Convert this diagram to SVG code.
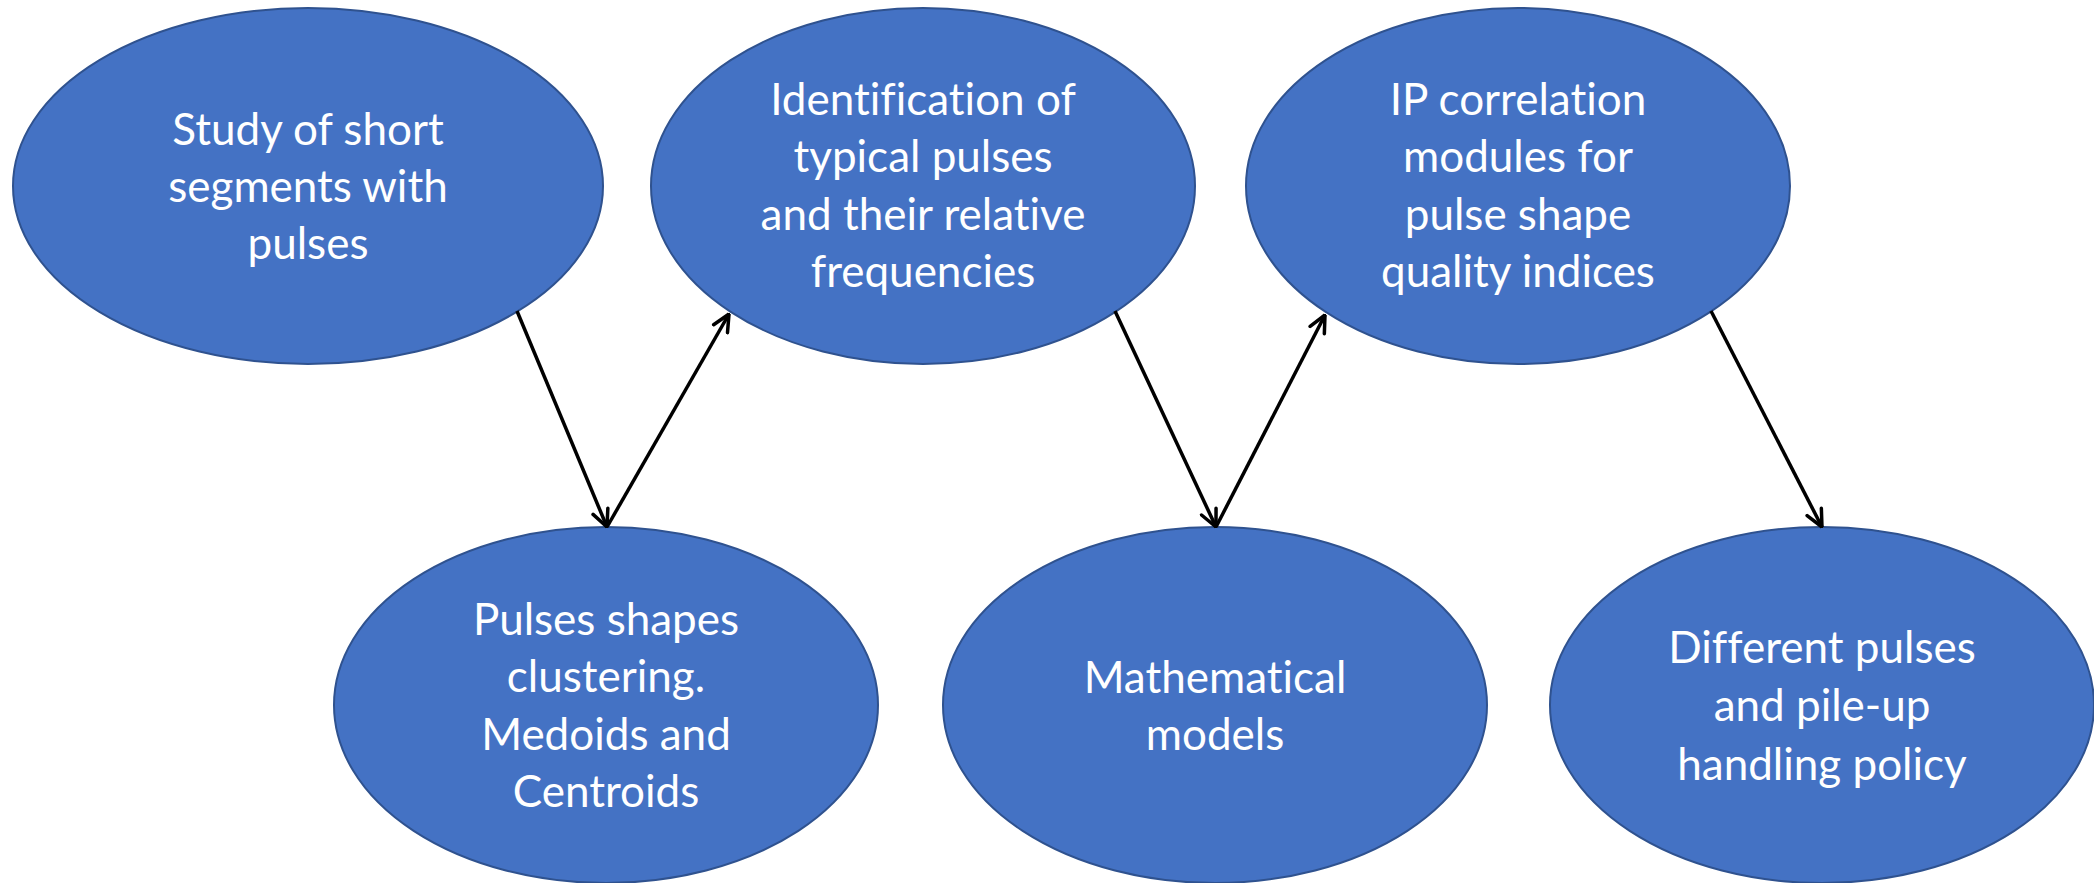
<svg xmlns="http://www.w3.org/2000/svg" width="2094" height="883" viewBox="0 0 2094 883">
  <style>
    .node ellipse { fill: #4472C4; stroke: #2F528F; stroke-width: 2; }
    .node text { fill: #FFFFFF; font-family: Lato, "Open Sans", "Liberation Sans", sans-serif; font-size: 44px; text-anchor: middle; font-variant-ligatures: none; }
    .edge { stroke: #000000; stroke-width: 3.5; fill: none; marker-end: url(#arrow); }
  </style>
  <defs>
    <marker id="arrow" viewBox="0 0 20 20" refX="19" refY="10" markerWidth="20" markerHeight="20" markerUnits="userSpaceOnUse" orient="auto">
      <path d="M2,2 L19,10 L2,18" fill="none" stroke="#000000" stroke-width="3.5" stroke-linecap="round" stroke-linejoin="round"/>
    </marker>
  </defs>
  <rect width="2094" height="883" fill="#FFFFFF"/>

  <g id="node-study" class="node">
    <ellipse cx="308" cy="186" rx="295" ry="178"/>
    <text x="308" y="145">Study of short</text>
    <text x="308" y="202">segments with</text>
    <text x="308" y="259">pulses</text>
  </g>

  <g id="node-identification" class="node">
    <ellipse cx="923" cy="186" rx="272" ry="178"/>
    <text x="923" y="115">Identification of</text>
    <text x="923" y="172">typical pulses</text>
    <text x="923" y="230">and their relative</text>
    <text x="923" y="287">frequencies</text>
  </g>

  <g id="node-ip-correlation" class="node">
    <ellipse cx="1518" cy="186" rx="272" ry="178"/>
    <text x="1518" y="115">IP correlation</text>
    <text x="1518" y="172">modules for</text>
    <text x="1518" y="230">pulse shape</text>
    <text x="1518" y="287">quality indices</text>
  </g>

  <g id="node-clustering" class="node">
    <ellipse cx="606" cy="705" rx="272" ry="178"/>
    <text x="606" y="635">Pulses shapes</text>
    <text x="606" y="692">clustering.</text>
    <text x="606" y="750">Medoids and</text>
    <text x="606" y="807">Centroids</text>
  </g>

  <g id="node-models" class="node">
    <ellipse cx="1215" cy="705" rx="272" ry="178"/>
    <text x="1215" y="693">Mathematical</text>
    <text x="1215" y="750">models</text>
  </g>

  <g id="node-pileup" class="node">
    <ellipse cx="1822" cy="705" rx="272" ry="178"/>
    <text x="1822" y="663">Different pulses</text>
    <text x="1822" y="721">and pile-up</text>
    <text x="1822" y="780">handling policy</text>
  </g>

  <g id="connectors">
    <line class="edge" x1="517" y1="311" x2="607" y2="527"/>
    <line class="edge" x1="607" y1="527" x2="729" y2="314"/>
    <line class="edge" x1="1115" y1="311" x2="1216" y2="527"/>
    <line class="edge" x1="1216" y1="527" x2="1325" y2="315"/>
    <line class="edge" x1="1711" y1="311" x2="1822" y2="527"/>
  </g>
</svg>
